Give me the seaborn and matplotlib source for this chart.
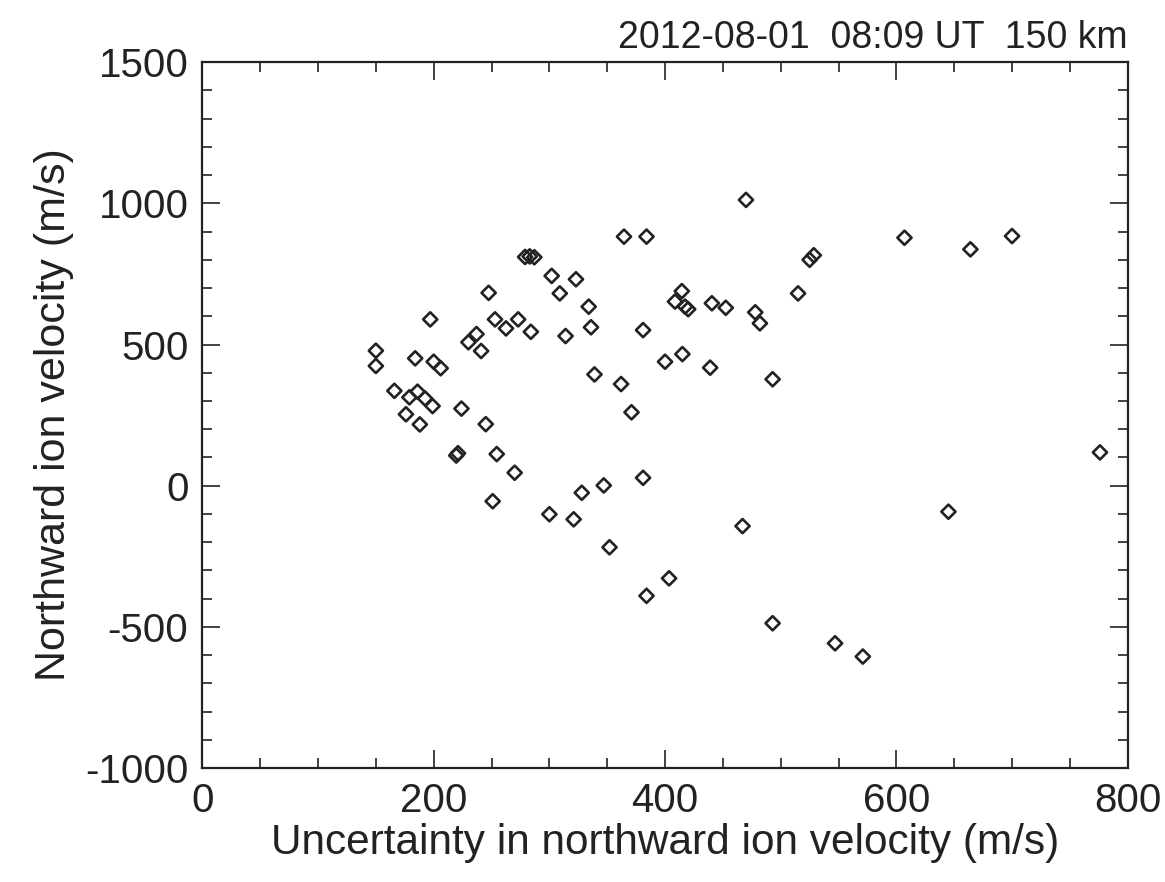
import matplotlib
matplotlib.use("Agg")
import matplotlib.pyplot as plt
import seaborn as sns
import pandas as pd
from matplotlib.ticker import MultipleLocator

# Uncertainty in northward ion velocity (m/s)
uncertainty = [150, 150, 166, 176, 179, 184, 186, 188, 192.5, 197, 199, 200, 206,
               219.5, 221, 224, 230, 237, 241, 245, 247.5, 251, 253, 254.5, 262.5,
               270, 273, 279, 283, 287, 284, 300, 302, 309, 314, 321, 323, 328,
               334, 336, 339, 347, 352, 362, 364.5, 371, 381, 381, 384, 384, 400,
               403.5, 408.6, 415, 414.5, 417.3, 420, 439, 440.5, 452.5, 467, 470,
               478, 482, 493, 493, 515, 525, 528.6, 547, 571, 607, 645, 664, 700, 776]
# Northward ion velocity (m/s)
velocity = [478, 424, 336, 253, 313, 451, 333, 217, 309, 589, 282, 439, 416,
            107, 115, 273, 508, 537, 477, 218, 683, -55, 589, 112, 557,
            46, 589, 810, 812, 809, 545, -101, 743, 681, 530, -119, 731, -25,
            634, 561, 394, 1, -218, 360, 882, 260, 551, 28, 882, -390, 439,
            -328, 652, 466, 689, 634, 625, 418, 646, 630, -143, 1012,
            614, 575, 377, -487, 681, 800, 816, -558, -605, 878, -92, 837, 884, 118]

df = pd.DataFrame({"unc": uncertainty, "vel": velocity})

sns.set_theme(style="ticks")
plt.rcParams["font.family"] = ["Liberation Sans", "DejaVu Sans"]
plt.rcParams["axes.unicode_minus"] = False

fig = plt.figure(figsize=(11.65, 8.82), dpi=100)
ax = fig.add_axes([0.1737, 0.1291, 0.968 - 0.1737, 0.9296 - 0.1291])

sns.scatterplot(data=df, x="unc", y="vel", marker="D", s=52,
                facecolor="none", edgecolor="#222222", linewidth=1.9, ax=ax,
                legend=False)

ax.set_xlim(0, 800)
ax.set_ylim(-1000, 1500)
ax.xaxis.set_major_locator(MultipleLocator(200))
ax.xaxis.set_minor_locator(MultipleLocator(50))
ax.yaxis.set_major_locator(MultipleLocator(500))
ax.yaxis.set_minor_locator(MultipleLocator(100))
ax.tick_params(which="both", direction="in", top=True, right=True,
               color="#222222", width=1.2)
ax.tick_params(which="major", length=13, labelsize=29, pad=10, labelcolor="#222222")
ax.tick_params(which="minor", length=7)
for sp in ax.spines.values():
    sp.set_linewidth(1.6)
    sp.set_color("#222222")

ax.set_xlabel("Uncertainty in northward ion velocity (m/s)", fontsize=30.5,
              color="#222222", labelpad=2)
ax.set_ylabel("Northward ion velocity (m/s)", fontsize=31, color="#222222",
              labelpad=8)
ax.set_title("2012-08-01  08:09 UT  150 km", loc="right", fontsize=27,
             color="#222222", pad=10)

fig.savefig("out.png", dpi=100)
